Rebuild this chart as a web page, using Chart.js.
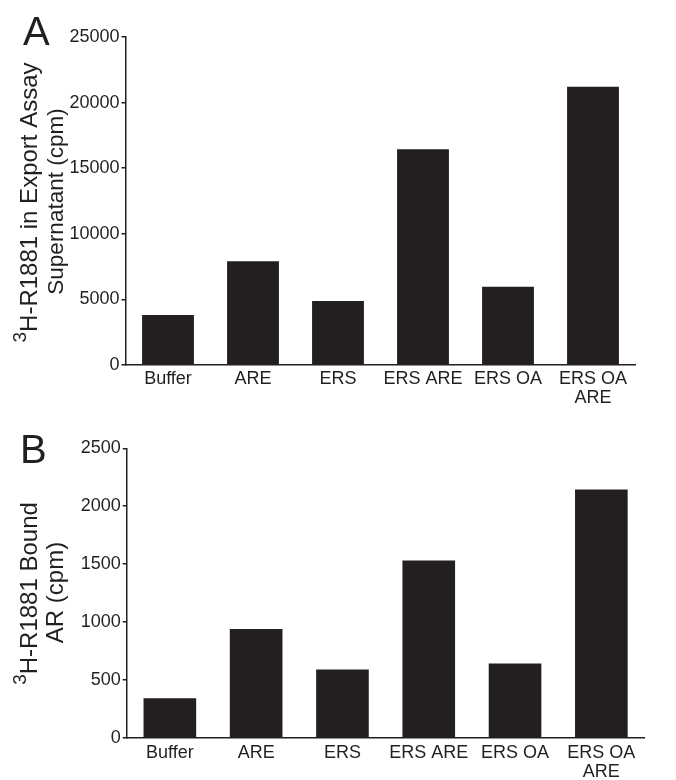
<!DOCTYPE html>
<html>
<head>
<meta charset="utf-8">
<script src="https://cdn.jsdelivr.net/npm/chart.js@4"></script>
<style>
  body { margin: 0; background: #fff; }
  .panel { position: absolute; left: 0; width: 676px; }
  #panelA { top: 0; height: 420px; }
  #panelB { top: 400px; height: 380px; }
</style>
</head>
<body>
<div class="panel" id="panelA"><canvas id="exportChart"></canvas></div>
<div class="panel" id="panelB"><canvas id="boundChart"></canvas></div>
<script>
const categories = ['Buffer', 'ARE', 'ERS', 'ERS ARE', 'ERS OA', ['ERS OA', 'ARE']];
const exportCpm = [3810, 7900, 4880, 16440, 5970, 21210];
const boundCpm = [340, 940, 590, 1530, 640, 2145];
const exportTickStep = 5000;
const exportTickMax = 25000;
const boundTickStep = 500;
const boundTickMax = 2500;

const ink = '#231f20';
const fontFamily = '"Liberation Sans", Arial, Helvetica, sans-serif';

// draws the panel letter and the rotated y title (with superscript 3)
const panelText = {
    id: 'panelText',
    afterDraw(chart, args, opts) {
        const ctx = chart.ctx;
        ctx.save();
        ctx.fillStyle = ink;
        ctx.textBaseline = 'alphabetic';
        ctx.textAlign = 'left';
        ctx.font = '40px ' + fontFamily;
        ctx.fillText(opts.letter, opts.letterX, opts.letterY);

        opts.lines.forEach((line) => {
            ctx.save();
            ctx.translate(0, line.centerY);
            ctx.rotate(-Math.PI / 2);
            const mainFont = line.size + 'px ' + fontFamily;
            const supFont = '19px ' + fontFamily;
            ctx.font = supFont;
            const supW = line.sup ? ctx.measureText(line.sup).width : 0;
            ctx.font = mainFont;
            const textW = ctx.measureText(line.text).width;
            let x = -(supW + textW) / 2;
            if (line.sup) {
                ctx.font = supFont;
                ctx.fillText(line.sup, x, line.baseline - 11);
                x += supW;
            }
            ctx.font = mainFont;
            ctx.fillText(line.text, x, line.baseline);
            ctx.restore();
        });
        ctx.restore();
    }
};

function makeChart(id, values, step, max, geom, text) {
    return new Chart(document.getElementById(id), {
        type: 'bar',
        data: {
            labels: categories,
            datasets: [{
                data: values,
                backgroundColor: ink,
                borderWidth: 0,
                barPercentage: 0.61,
                categoryPercentage: 1
            }]
        },
        options: {
            responsive: true,
            maintainAspectRatio: false,
            animation: false,
            layout: {
                padding: { top: geom.top, right: geom.right, left: 0, bottom: 0 }
            },
            plugins: {
                legend: { display: false },
                tooltip: { enabled: false },
                panelText: text
            },
            scales: {
                x: {
                    grid: { display: false, drawTicks: false },
                    border: { display: true, color: ink, width: 1.5 },
                    ticks: {
                        color: ink,
                        padding: geom.xPad,
                        maxRotation: 0,
                        autoSkip: false,
                        font: { family: fontFamily, size: 18, lineHeight: 1.05 }
                    },
                    afterFit: (scale) => { scale.height = geom.xHeight; }
                },
                y: {
                    min: 0,
                    max: max,
                    grid: { display: true, drawOnChartArea: false, drawTicks: true, tickLength: 4, color: ink, lineWidth: 1.5 },
                    border: { display: true, color: ink, width: 1.5 },
                    ticks: {
                        stepSize: step,
                        color: ink,
                        padding: 2,
                        font: { family: fontFamily, size: 18 },
                        callback: (v) => String(v)
                    },
                    afterFit: (scale) => { scale.width = geom.yWidth; }
                }
            }
        },
        plugins: [panelText]
    });
}

makeChart('exportChart', exportCpm, exportTickStep, exportTickMax,
    { top: 37, right: 40.5, yWidth: 125.5, xHeight: 55, xPad: 5 },
    {
        letter: 'A', letterX: 23, letterY: 45,
        lines: [
            { sup: '3', text: 'H-R1881 in Export Assay', size: 24, baseline: 37, centerY: 202.5 },
            { text: 'Supernatant (cpm)', size: 22.5, baseline: 63, centerY: 201.5 }
        ]
    });

makeChart('boundChart', boundCpm, boundTickStep, boundTickMax,
    { top: 48.3, right: 31.5, yWidth: 126.7, xHeight: 42.3, xPad: 6 },
    {
        letter: 'B', letterX: 20, letterY: 63,
        lines: [
            { sup: '3', text: 'H-R1881 Bound', size: 24, baseline: 37, centerY: 193.5 },
            { text: 'AR (cpm)', size: 24, baseline: 63, centerY: 192.5 }
        ]
    });
</script>
</body>
</html>
